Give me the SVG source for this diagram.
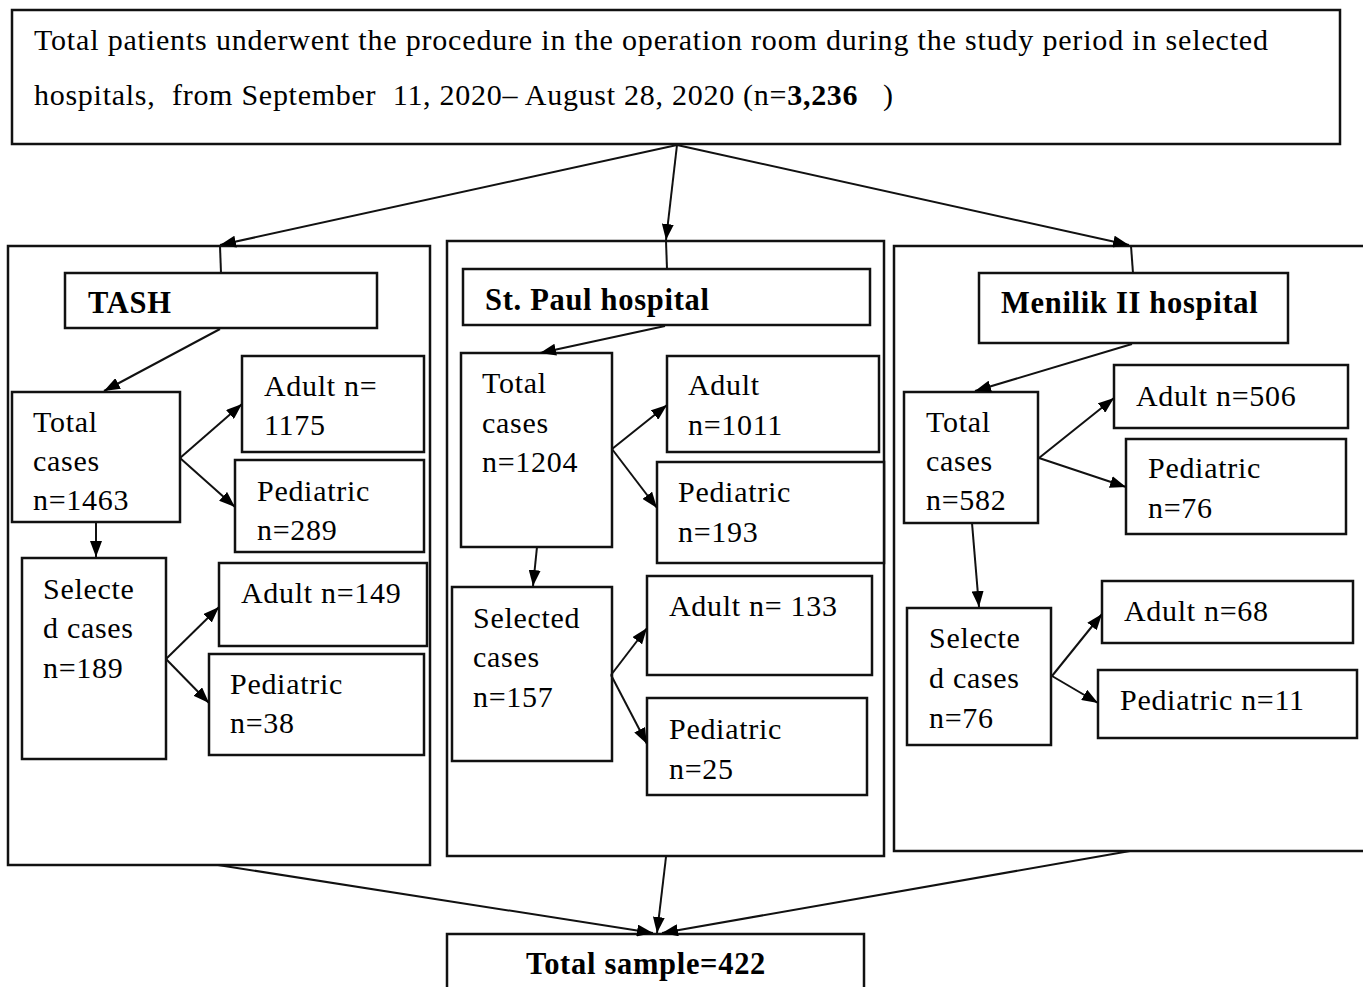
<svg xmlns="http://www.w3.org/2000/svg" width="1363" height="987" viewBox="0 0 1363 987">
<style>
.b{fill:#fff;stroke:#111;stroke-width:2.5}
.o{fill:none;stroke:#111;stroke-width:2.5}
.t{font-family:"Liberation Serif","Times New Roman",serif;font-size:30px;fill:#000;letter-spacing:0.7px}
.h{font-family:"Liberation Serif","Times New Roman",serif;font-size:30.5px;font-weight:bold;fill:#000;letter-spacing:0.7px}
.c line{stroke:#111;stroke-width:2}
.c line.a{marker-end:url(#ar)}
</style>
<defs>
<marker id="ar" viewBox="0 0 16 12" refX="16" refY="6" markerWidth="16" markerHeight="12" markerUnits="userSpaceOnUse" orient="auto">
<path d="M0,0 L16,6 L0,12 Z" fill="#000"/>
</marker>
</defs>
<rect width="1363" height="987" fill="#fff"/>

<g id="top">
<rect class="b" x="12" y="10" width="1328" height="134"/>
<text class="t" x="34" y="50" textLength="1234" lengthAdjust="spacing" style="letter-spacing:0">Total patients underwent the procedure in the operation room during the study period in selected</text>
<text class="t" x="34" y="105" xml:space="preserve" textLength="859" lengthAdjust="spacing" style="letter-spacing:0">hospitals,  from September  11, 2020– August 28, 2020 (n=<tspan font-weight="bold">3,236</tspan>   )</text>
</g>

<g id="tash-group">
<rect class="o" x="8" y="246" width="422" height="619"/>
</g>
<g id="stpaul-group">
<rect class="o" x="447" y="241" width="437" height="615"/>
</g>
<g id="menilik-group">
<rect class="o" x="894" y="246" width="480" height="605"/>
</g>

<g id="tash">
<rect class="b" x="65" y="273" width="312" height="55"/>
<text class="h" x="88" y="313">TASH</text>
</g>
<g id="tash-total">
<rect class="b" x="12" y="392" width="168" height="130"/>
<text class="t" x="33" y="432">Total</text>
<text class="t" x="33" y="471">cases</text>
<text class="t" x="33" y="510">n=1463</text>
</g>
<g id="tash-adult">
<rect class="b" x="242" y="356" width="182" height="96"/>
<text class="t" x="264" y="396">Adult n=</text>
<text class="t" x="264" y="435">1175</text>
</g>
<g id="tash-ped">
<rect class="b" x="235" y="460" width="189" height="92"/>
<text class="t" x="257" y="501">Pediatric</text>
<text class="t" x="257" y="540">n=289</text>
</g>
<g id="tash-selected">
<rect class="b" x="22" y="558" width="144" height="201"/>
<text class="t" x="43" y="599">Selecte</text>
<text class="t" x="43" y="638">d cases</text>
<text class="t" x="43" y="678">n=189</text>
</g>
<g id="tash-sel-adult">
<rect class="b" x="219" y="563" width="208" height="83"/>
<text class="t" x="241" y="603">Adult n=149</text>
</g>
<g id="tash-sel-ped">
<rect class="b" x="209" y="654" width="215" height="101"/>
<text class="t" x="230" y="694">Pediatric</text>
<text class="t" x="230" y="733">n=38</text>
</g>

<g id="stpaul">
<rect class="b" x="463" y="269" width="407" height="56"/>
<text class="h" x="485" y="310">St. Paul hospital</text>
</g>
<g id="stpaul-total">
<rect class="b" x="461" y="353" width="151" height="194"/>
<text class="t" x="482" y="393">Total</text>
<text class="t" x="482" y="433">cases</text>
<text class="t" x="482" y="472">n=1204</text>
</g>
<g id="stpaul-adult">
<rect class="b" x="667" y="356" width="212" height="96"/>
<text class="t" x="688" y="395">Adult</text>
<text class="t" x="688" y="435">n=1011</text>
</g>
<g id="stpaul-ped">
<rect class="b" x="657" y="462" width="227" height="101"/>
<text class="t" x="678" y="502">Pediatric</text>
<text class="t" x="678" y="542">n=193</text>
</g>
<g id="stpaul-selected">
<rect class="b" x="452" y="587" width="160" height="174"/>
<text class="t" x="473" y="628">Selected</text>
<text class="t" x="473" y="667">cases</text>
<text class="t" x="473" y="707">n=157</text>
</g>
<g id="stpaul-sel-adult">
<rect class="b" x="647" y="576" width="225" height="99"/>
<text class="t" x="669" y="616">Adult n= 133</text>
</g>
<g id="stpaul-sel-ped">
<rect class="b" x="647" y="698" width="220" height="97"/>
<text class="t" x="669" y="739">Pediatric</text>
<text class="t" x="669" y="779">n=25</text>
</g>

<g id="menilik">
<rect class="b" x="979" y="273" width="309" height="70"/>
<text class="h" x="1001" y="313">Menilik II hospital</text>
</g>
<g id="menilik-total">
<rect class="b" x="904" y="392" width="134" height="131"/>
<text class="t" x="926" y="432">Total</text>
<text class="t" x="926" y="471">cases</text>
<text class="t" x="926" y="510">n=582</text>
</g>
<g id="menilik-adult">
<rect class="b" x="1114" y="365" width="234" height="63"/>
<text class="t" x="1136" y="406">Adult n=506</text>
</g>
<g id="menilik-ped">
<rect class="b" x="1126" y="439" width="220" height="95"/>
<text class="t" x="1148" y="478">Pediatric</text>
<text class="t" x="1148" y="518">n=76</text>
</g>
<g id="menilik-selected">
<rect class="b" x="907" y="608" width="144" height="137"/>
<text class="t" x="929" y="648">Selecte</text>
<text class="t" x="929" y="688">d cases</text>
<text class="t" x="929" y="728">n=76</text>
</g>
<g id="menilik-sel-adult">
<rect class="b" x="1102" y="581" width="251" height="62"/>
<text class="t" x="1124" y="621">Adult n=68</text>
</g>
<g id="menilik-sel-ped">
<rect class="b" x="1098" y="670" width="259" height="68"/>
<text class="t" x="1120" y="710">Pediatric n=11</text>
</g>

<g id="total-sample">
<rect class="b" x="447" y="934" width="417" height="70"/>
<text class="h" x="646" y="974" text-anchor="middle">Total sample=422</text>
</g>

<g id="connectors" class="c">
<line class="a" x1="677" y1="145" x2="220" y2="245"/>
<line class="a" x1="677" y1="145" x2="666" y2="240"/>
<line class="a" x1="677" y1="145" x2="1129" y2="245"/>
<line x1="220" y1="246" x2="221" y2="273"/>
<line x1="666" y1="241" x2="667" y2="269"/>
<line x1="1131" y1="246" x2="1133" y2="273"/>

<line class="a" x1="220" y1="329" x2="104" y2="391"/>
<line class="a" x1="180" y1="458" x2="242" y2="404"/>
<line class="a" x1="180" y1="458" x2="235" y2="507"/>
<line class="a" x1="96" y1="523" x2="96" y2="557"/>
<line class="a" x1="166" y1="659" x2="219" y2="607"/>
<line class="a" x1="166" y1="659" x2="209" y2="703"/>

<line class="a" x1="665" y1="326" x2="540" y2="353"/>
<line class="a" x1="612" y1="449" x2="667" y2="405"/>
<line class="a" x1="612" y1="449" x2="657" y2="508"/>
<line class="a" x1="537" y1="547" x2="533" y2="586"/>
<line class="a" x1="611" y1="675" x2="647" y2="628"/>
<line class="a" x1="611" y1="675" x2="647" y2="744"/>

<line class="a" x1="1132" y1="344" x2="975" y2="391"/>
<line class="a" x1="1039" y1="458" x2="1114" y2="398"/>
<line class="a" x1="1039" y1="458" x2="1126" y2="487"/>
<line class="a" x1="972" y1="523" x2="979" y2="607"/>
<line class="a" x1="1052" y1="676" x2="1102" y2="614"/>
<line class="a" x1="1052" y1="676" x2="1098" y2="703"/>

<line class="a" x1="218" y1="865" x2="653" y2="933"/>
<line class="a" x1="666" y1="857" x2="657" y2="933"/>
<line class="a" x1="1130" y1="851" x2="662" y2="933"/>
</g>
</svg>
